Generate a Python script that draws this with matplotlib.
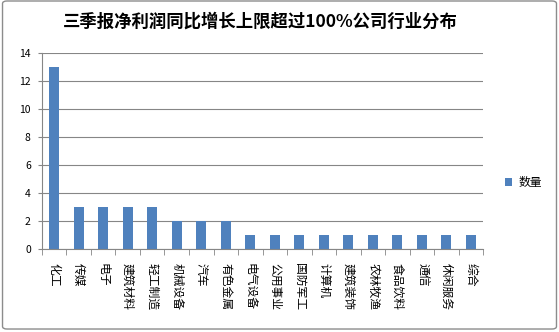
import matplotlib
matplotlib.use("Agg")
import matplotlib.pyplot as plt
from matplotlib.patches import FancyBboxPatch
from matplotlib.ticker import FixedLocator, NullFormatter

plt.rcParams['font.family'] = ['Noto Sans CJK SC', 'DejaVu Sans']

industries = ["化工", "传媒", "电子", "建筑材料", "轻工制造", "机械设备", "汽车", "有色金属",
              "电气设备", "公用事业", "国防军工", "计算机", "建筑装饰", "农林牧渔", "食品饮料",
              "通信", "休闲服务", "综合"]
counts = [13, 3, 3, 3, 3, 2, 2, 2, 1, 1, 1, 1, 1, 1, 1, 1, 1, 1]
series_name = "数量"
title = "三季报净利润同比增长上限超过100%公司行业分布"

axis_gray = "#868686"

fig = plt.figure(figsize=(5.59, 3.32), dpi=100)
fig.patches.append(FancyBboxPatch((0.0045, 0.009), 0.991, 0.988,
                                  boxstyle="round,pad=0,rounding_size=0.008",
                                  transform=fig.transFigure, fill=False,
                                  edgecolor="#8c8c8c", linewidth=1.0))

ax = fig.add_axes([0.0751, 0.25, 0.789, 0.589])
x = list(range(len(industries)))
ax.bar(x, counts, width=0.41, color="#4F81BD", label=series_name, zorder=2)

ax.set_xlim(-0.5, len(industries) - 0.5)
ax.set_ylim(0, 14)
ax.set_yticks(range(0, 15, 2))
ax.tick_params(axis='y', labelsize=7.5, length=3, color=axis_gray, pad=5)
ax.yaxis.grid(True, color=axis_gray, linewidth=0.8, zorder=0)
ax.set_axisbelow(True)

ax.set_xticks(x)
ax.set_xticklabels(industries, rotation=270, fontsize=8.5)
ax.tick_params(axis='x', length=0, pad=10)
ax.xaxis.set_minor_locator(FixedLocator([i - 0.5 for i in range(len(industries) + 1)]))
ax.xaxis.set_minor_formatter(NullFormatter())
ax.tick_params(axis='x', which='minor', length=4, color=axis_gray)

for side in ("top", "right"):
    ax.spines[side].set_visible(False)
for side in ("left", "bottom"):
    ax.spines[side].set_color(axis_gray)

fig.text(0.465, 0.934, title, ha="center", va="center",
         fontsize=12.5, fontweight="bold")

fig.legend(loc="center left", bbox_to_anchor=(0.903, 0.449), frameon=False,
           borderpad=0, borderaxespad=0, fontsize=8.5,
           handlelength=0.65, handleheight=0.65, handletextpad=0.5)

fig.savefig("out.png", dpi=100)
